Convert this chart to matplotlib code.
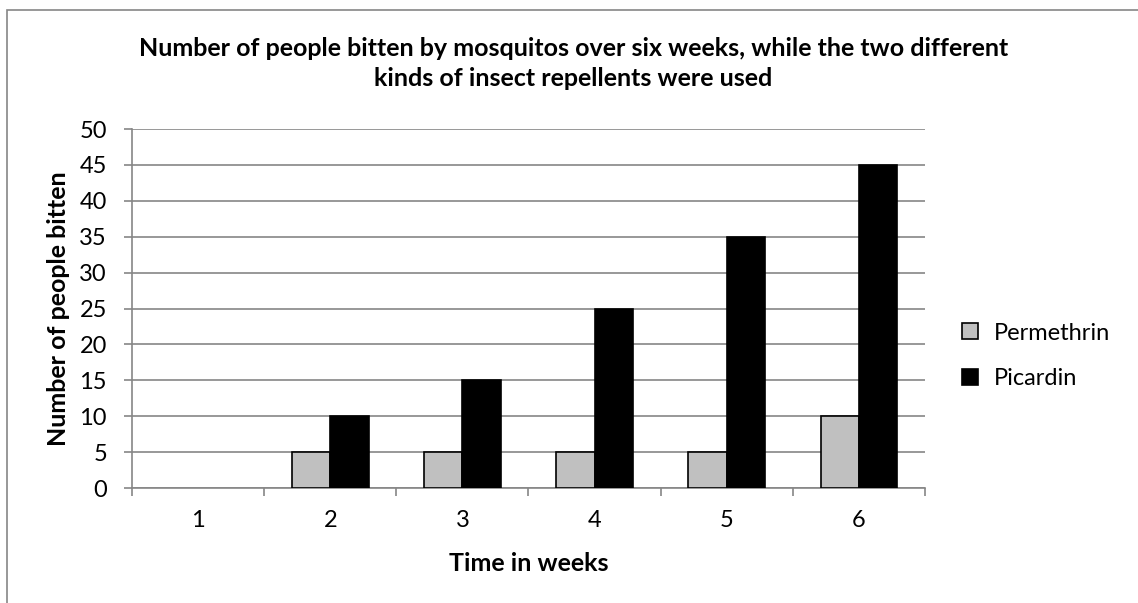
import numpy as np
import matplotlib.pyplot as plt
from matplotlib.patches import Rectangle, Patch

plt.rcParams['font.family'] = ['Lato', 'DejaVu Sans']

weeks = ['1', '2', '3', '4', '5', '6']
permethrin = [0, 5, 5, 5, 5, 10]
picardin = [0, 10, 15, 25, 35, 45]
yticks = [0, 5, 10, 15, 20, 25, 30, 35, 40, 45, 50]

grid_col = '#868686'
perm_col = '#C0C0C0'
pica_col = 'black'

fig = plt.figure(figsize=(11.38, 6.03), dpi=100)
ax = fig.add_axes([0.1160, 0.1907, 0.6968, 0.5953])

# outer chart frame (only left/top visible in the reference)
fig.patches.append(Rectangle((7 / 1138, -0.05), 1.2, 1 - 10 / 603 + 0.05,
                             transform=fig.transFigure, fill=False,
                             edgecolor=grid_col, linewidth=1.2))

x = np.arange(len(weeks))
w = 0.29
# zero-height bars show nothing in the reference, so no outline for them
lw_p = [1.2 if v > 0 else 0 for v in permethrin]
lw_k = [1.2 if v > 0 else 0 for v in picardin]
ax.bar(x - w / 2, permethrin, w, color=perm_col, edgecolor='black',
       linewidth=lw_p, zorder=3)
ax.bar(x + w / 2, picardin, w, color=pica_col, edgecolor='black',
       linewidth=lw_k, zorder=3)

ax.set_xlim(-0.5, len(weeks) - 0.5)
ax.set_ylim(0, 50)
ax.set_yticks(yticks)
ax.set_yticklabels([str(v) for v in yticks], fontsize=17)
ax.set_xticks(x)
ax.set_xticklabels(weeks, fontsize=17)
ax.tick_params(axis='x', length=0, pad=16)
ax.tick_params(axis='y', length=6, color=grid_col, width=1.2, pad=12)

# boundary ticks on x axis
ax.set_xticks(np.arange(-0.5, len(weeks)), minor=True)
ax.tick_params(axis='x', which='minor', length=6, color=grid_col, width=1.2)

ax.yaxis.grid(True, color=grid_col, linewidth=1.2, zorder=0)
ax.set_axisbelow(True)
for s in ['top', 'right']:
    ax.spines[s].set_visible(False)
for s in ['left', 'bottom']:
    ax.spines[s].set_color(grid_col)
    ax.spines[s].set_linewidth(1.2)

ax.set_ylabel('Number of people bitten', fontsize=18, fontweight='bold', labelpad=7)
ax.set_xlabel('Time in weeks', fontsize=18, fontweight='bold', labelpad=15)

fig.text(0.504, 0.8947,
         'Number of people bitten by mosquitos over six weeks, while the two different\n'
         'kinds of insect repellents were used',
         ha='center', va='center', fontsize=18, fontweight='bold', linespacing=1.35)

handles = [Patch(facecolor=perm_col, edgecolor='black', linewidth=1.2, label='Permethrin'),
           Patch(facecolor=pica_col, edgecolor='black', linewidth=1.2, label='Picardin')]
ax.legend(handles=handles, loc='center left', bbox_to_anchor=(1.02, 0.368),
          frameon=False, fontsize=17, handlelength=0.68, handleheight=0.68,
          labelspacing=1.05, handletextpad=0.65)

fig.savefig('out.png', dpi=100)
